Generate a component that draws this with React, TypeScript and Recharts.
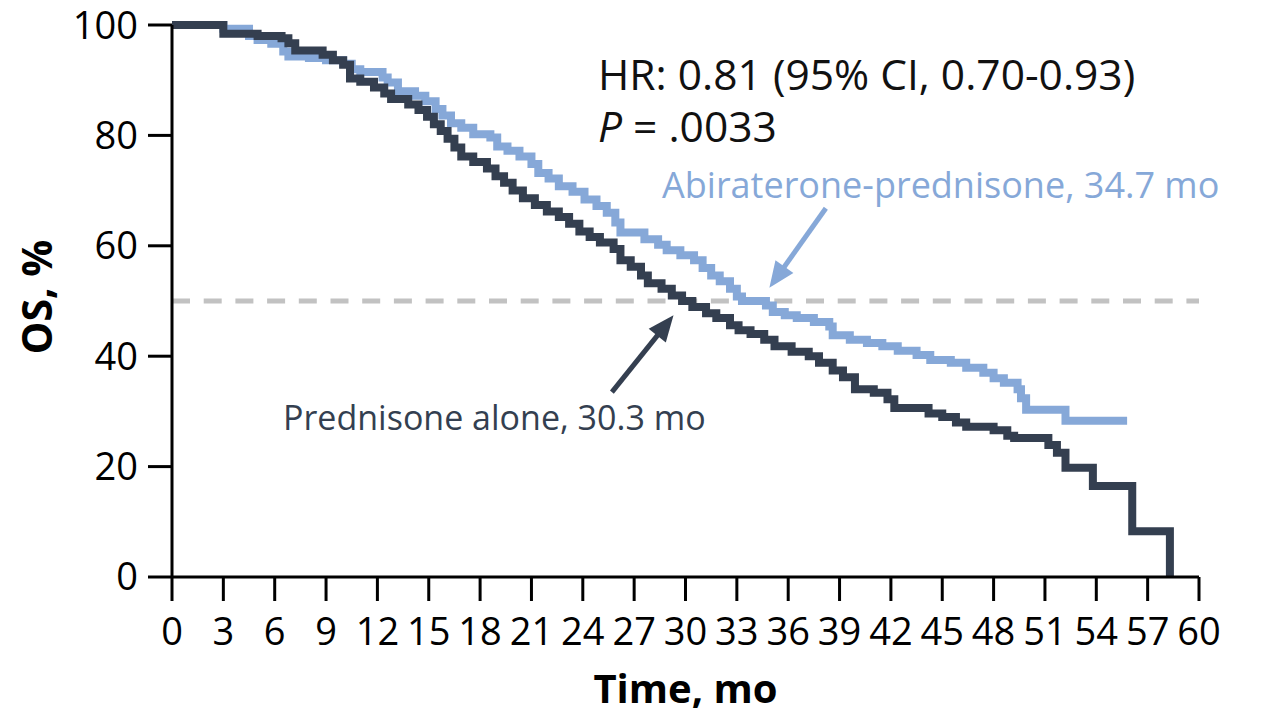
import React from "react";
import { LineChart, Line, XAxis, YAxis, ReferenceLine, Label } from "recharts";

// Prednisone alone (Kaplan-Meier steps: time in months, OS %)
const predTime = [0, 3.0, 5.0, 6.4, 6.8, 7.2, 8.8, 9.4, 10.0, 10.4, 11.0, 11.8, 12.4, 12.8, 13.8, 14.4, 14.9, 15.3, 15.7, 16.1, 16.5, 16.9, 17.6, 18.4, 18.9, 19.4, 19.9, 20.5, 21.2, 21.9, 22.6, 23.2, 23.8, 24.4, 25.0, 25.8, 26.2, 26.8, 27.4, 27.8, 28.6, 29.2, 29.8, 30.4, 31.2, 31.8, 32.6, 33.1, 33.8, 34.6, 35.2, 36.2, 37.2, 37.8, 38.6, 39.2, 39.9, 41.0, 41.8, 42.2, 44.2, 45.0, 45.8, 46.4, 48.0, 48.8, 49.2, 51.2, 51.7, 52.2, 53.8, 56.1, 58.3];
const predSurv = [100, 98.4, 98.0, 97.6, 96.7, 95.4, 94.6, 93.6, 92.8, 90.3, 89.7, 88.7, 87.6, 86.6, 85.6, 84.6, 83.4, 82.0, 80.8, 79.4, 77.8, 76.2, 75.2, 74.0, 72.6, 71.4, 70.0, 68.6, 67.4, 66.2, 65.2, 64.0, 62.6, 61.6, 60.6, 59.4, 57.4, 56.2, 54.6, 53.2, 52.2, 51.0, 50.0, 48.9, 47.8, 46.9, 45.6, 44.7, 44.0, 43.0, 41.8, 40.8, 40.0, 38.8, 37.4, 36.2, 34.0, 33.4, 32.2, 30.6, 29.6, 29.0, 28.0, 27.2, 26.6, 25.6, 25.2, 23.9, 22.5, 19.8, 16.5, 8.3, 0];

// Abiraterone-prednisone
const abiTime = [0, 3.0, 4.5, 5.0, 5.8, 6.5, 6.8, 8.0, 9.0, 10.0, 10.5, 11.0, 12.3, 12.6, 13.2, 14.2, 14.8, 15.4, 15.8, 16.3, 16.9, 17.6, 18.6, 19.0, 19.6, 20.3, 21.0, 21.4, 22.0, 22.6, 23.4, 24.1, 24.8, 25.4, 25.9, 26.2, 27.6, 28.4, 28.9, 29.7, 30.5, 31.0, 31.5, 32.0, 32.6, 33.0, 33.3, 34.7, 35.1, 35.8, 36.5, 37.5, 38.4, 38.6, 39.6, 40.6, 41.5, 42.4, 43.5, 44.3, 45.5, 46.4, 47.4, 48.0, 48.6, 49.4, 49.6, 49.9, 52.2, 55.8];
const abiSurv = [100, 99.3, 98.0, 97.3, 96.6, 95.2, 94.3, 94.0, 93.6, 93.0, 92.0, 91.5, 90.5, 89.6, 88.0, 87.2, 86.2, 84.8, 83.6, 82.2, 81.4, 80.2, 79.6, 78.0, 77.2, 76.2, 74.8, 73.2, 72.2, 70.8, 69.8, 68.4, 67.2, 66.0, 64.2, 62.4, 61.2, 60.2, 59.2, 58.3, 57.4, 56.0, 54.6, 53.6, 52.2, 50.8, 50.0, 49.2, 48.0, 47.4, 46.9, 46.2, 45.4, 43.8, 43.0, 42.4, 41.8, 41.0, 40.2, 39.3, 38.8, 37.9, 37.0, 36.0, 35.2, 34.0, 32.4, 30.3, 28.3, 28.3];

const xTicks = [0, 3, 6, 9, 12, 15, 18, 21, 24, 27, 30, 33, 36, 39, 42, 45, 48, 51, 54, 57, 60];
const yTicks = [0, 20, 40, 60, 80, 100];
const medianLevel = 50;

const abiArrow = [{ x: 38.2, y: 66.8 }, { x: 34.9, y: 52.4 }];
const predArrow = [{ x: 25.7, y: 33.5 }, { x: 29.3, y: 47.4 }];

const hrText = "HR: 0.81 (95% CI, 0.70-0.93)";
const pText = " = .0033";
const abiLabel = "Abiraterone-prednisone, 34.7 mo";
const predLabel = "Prednisone alone, 30.3 mo";

const predData = predTime.map((t, i) => ({ t, s: predSurv[i] }));
const abiData = abiTime.map((t, i) => ({ t, s: abiSurv[i] }));

const DARK = "#343f50";
const LIGHT = "#86a8d8";
const FONT = "'Open Sans', 'Noto Sans', sans-serif";

const makeArrow = (color: string) => (props: any) => {
  const { x1, y1, x2, y2 } = props;
  const dx = x2 - x1;
  const dy = y2 - y1;
  const len = Math.hypot(dx, dy) || 1;
  const ux = dx / len;
  const uy = dy / len;
  const hl = 26;
  const hw = 11;
  const bx = x2 - ux * hl;
  const by = y2 - uy * hl;
  const px = -uy;
  const py = ux;
  return (
    <g>
      <line x1={x1} y1={y1} x2={bx + ux * 2} y2={by + uy * 2} stroke={color} strokeWidth={5} />
      <polygon
        points={`${x2},${y2} ${bx + px * hw},${by + py * hw} ${bx - px * hw},${by - py * hw}`}
        fill={color}
      />
    </g>
  );
};

const YTitle = (props: any) => {
  const vb = props.viewBox || { x: 0, y: 0, height: 0 };
  const cx = vb.x + 28;
  const cy = vb.y + vb.height / 2 - 4;
  return (
    <text
      x={cx}
      y={cy}
      transform={`rotate(-90 ${cx} ${cy})`}
      textAnchor="middle"
      dominantBaseline="central"
      fontFamily={FONT}
      fontWeight={700}
      fontSize={41}
      fill="#000"
    >
      OS, %
    </text>
  );
};

const XTitle = (props: any) => {
  const vb = props.viewBox || { x: 0, y: 0, width: 0, height: 0 };
  const cx = vb.x + vb.width / 2;
  return (
    <text x={cx} y={695} textAnchor="middle" fontFamily={FONT} fontWeight={700} fontSize={40} fill="#000">
      Time, mo
    </text>
  );
};

export default function App() {
  return (
    <div style={{ fontFamily: FONT, width: 1255, height: 706 }}>
      <LineChart
        width={1255}
        height={706}
        margin={{ top: 17, right: 64, bottom: 0, left: 0 }}
        style={{ overflow: "visible" }}
      >
        <XAxis
          type="number"
          dataKey="t"
          domain={[0, 60]}
          ticks={xTicks}
          interval={0}
          height={137}
          tickSize={24}
          tickMargin={17}
          axisLine={{ stroke: "#000", strokeWidth: 3 }}
          tickLine={{ stroke: "#000", strokeWidth: 3 }}
          tick={{ fill: "#000", fontSize: 38, fontFamily: FONT }}
          allowDataOverflow
        >
          <Label content={XTitle} />
        </XAxis>
        <YAxis
          type="number"
          domain={[0, 100]}
          ticks={yTicks}
          interval={0}
          width={164}
          tickSize={24}
          tickMargin={10}
          axisLine={{ stroke: "#000", strokeWidth: 3 }}
          tickLine={{ stroke: "#000", strokeWidth: 3 }}
          tick={{ fill: "#000", fontSize: 38, fontFamily: FONT }}
        >
          <Label content={YTitle} />
        </YAxis>
        <ReferenceLine y={medianLevel} stroke="#c2c2c2" strokeWidth={5} strokeDasharray="18 13.7" />
        <Line
          data={abiData}
          dataKey="s"
          type="stepAfter"
          stroke={LIGHT}
          strokeWidth={8}
          dot={false}
          activeDot={false}
          isAnimationActive={false}
          strokeLinejoin="miter"
        />
        <Line
          data={predData}
          dataKey="s"
          type="stepAfter"
          stroke={DARK}
          strokeWidth={8}
          dot={false}
          activeDot={false}
          isAnimationActive={false}
          strokeLinejoin="miter"
        />
        <ReferenceLine segment={abiArrow} shape={makeArrow(LIGHT)} ifOverflow="visible" />
        <ReferenceLine segment={predArrow} shape={makeArrow(DARK)} ifOverflow="visible" />
        <g>
          <text x={590} y={82} fontFamily={FONT} fontSize={42.5} fill="#111">
            {hrText}
          </text>
          <text x={590} y={134} fontFamily={FONT} fontSize={42.5} fill="#111">
            <tspan fontStyle="italic">P</tspan>
            {pText}
          </text>
          <text x={654} y={190} fontFamily={FONT} fontSize={36} fill={LIGHT}>
            {abiLabel}
          </text>
          <text x={275} y={422} fontFamily={FONT} fontSize={34} fill={DARK}>
            {predLabel}
          </text>
        </g>
      </LineChart>
    </div>
  );
}
